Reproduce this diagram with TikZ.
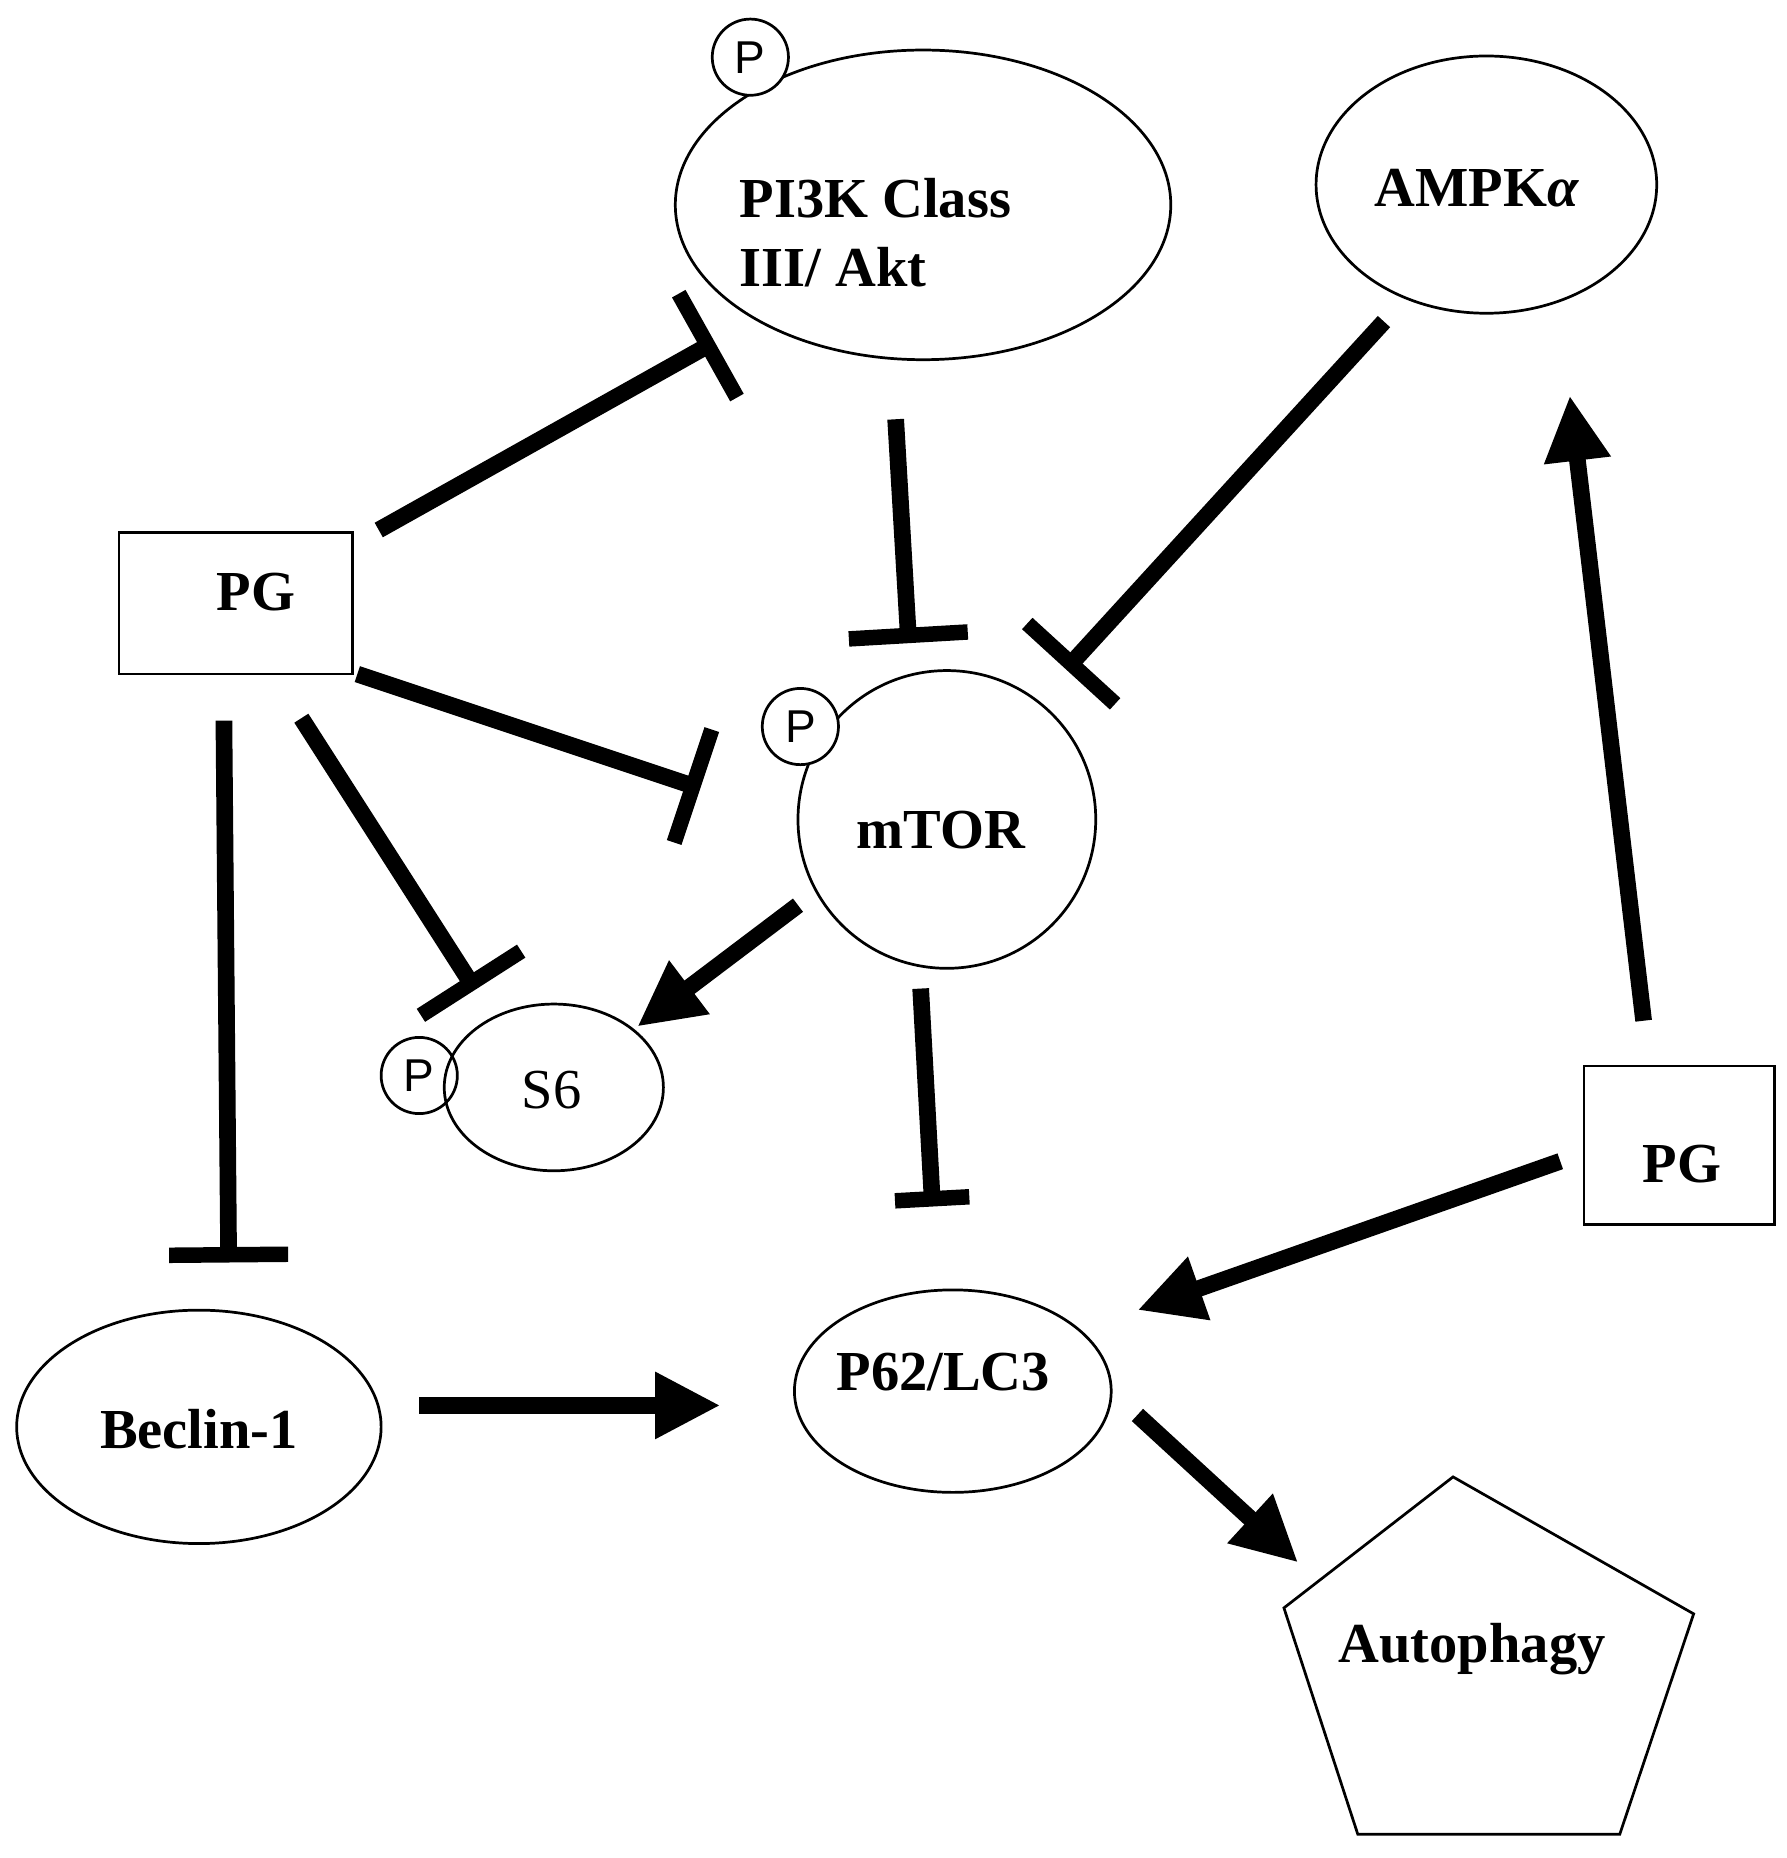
\documentclass[tikz,border=0pt]{standalone}
\usepackage{fontspec}
\setmainfont{Liberation Serif}
\newfontfamily\psans{Liberation Sans}
\usetikzlibrary{arrows.meta}
\begin{document}
\begin{tikzpicture}[x=0.02cm,y=-0.02cm,
  shp/.style={draw,line width=1.3pt,inner sep=0pt},
  lbl/.style={font=\fontsize{27}{33}\selectfont\bfseries,align=left},
  pc/.style={draw,line width=1.3pt,circle,minimum size=1.28cm,inner sep=0pt,font=\psans\fontsize{22}{22}\selectfont},
  inh/.style={line width=0.28cm,-{Bar[width=2cm,line width=0.26cm]}},
  act/.style={line width=0.28cm,-{Triangle[length=1.1cm,width=1.05cm]}}]
\useasboundingbox (0,0) rectangle (1500,1560);
\draw[shp] (775,172) ellipse [x radius=208,y radius=130];
\node[lbl] (PI3K) at (735,195) {PI3K Class\\III/ Akt};
\node[pc,fill=white] (P1) at (630,48) {P};
\draw[shp] (1248,155) ellipse [x radius=143,y radius=108];
\node[lbl] (AMPK) at (1240,158) {AMPK\textit{α}};
\draw[shp] (100,447) rectangle (296,566);
\node[lbl] (PG) at (215,497) {PG};
\draw[shp] (795,688) circle [radius=125];
\node[lbl] (mTOR) at (790,697) {mTOR};
\node[pc,fill=white] (P2) at (672,610) {P};
\draw[shp] (465,913) ellipse [x radius=92,y radius=70];
\node[font=\fontsize{27}{33}\selectfont] (S6) at (463,915) {S6};
\node[pc] (P3) at (352,903) {P};
\draw[shp] (1330,895) rectangle (1490,1028);
\node[lbl] (PG2) at (1412,977) {PG};
\draw[shp] (800,1168) ellipse [x radius=133,y radius=85];
\node[lbl] (P62) at (792,1152) {P62/LC3};
\draw[shp] (167,1198) ellipse [x radius=153,y radius=98];
\node[lbl] (Bec) at (167,1200) {Beclin-1};
\draw[shp] (1220,1240) -- (1422,1355) -- (1360,1540) -- (1140,1540) -- (1078,1350) -- cycle;
\node[lbl] (Aut) at (1236,1385) {Autophagy};
\coordinate (a1) at (318,445); \coordinate (b1) at (600,287);
\coordinate (a2) at (752,352); \coordinate (b2) at (763,540);
\coordinate (a3) at (1162,270); \coordinate (b3) at (895,562);
\coordinate (a4) at (300,566); \coordinate (b4) at (588,662);
\coordinate (a5) at (253,603); \coordinate (b5) at (399,831);
\coordinate (a6) at (670,760); \coordinate (b6) at (535,862);
\coordinate (a7) at (188,605); \coordinate (b7) at (192,1060);
\coordinate (a8) at (773,830); \coordinate (b8) at (783,1013);
\coordinate (a9) at (1310,975); \coordinate (b9) at (955,1100);
\coordinate (a10) at (352,1180); \coordinate (b10) at (605,1180);
\coordinate (a11) at (955,1188); \coordinate (b11) at (1090,1312);
\coordinate (a12) at (1380,857); \coordinate (b12) at (1318,332);
\draw[inh] (a1) -- (b1);
\draw[inh] (a2) -- (b2);
\draw[inh] (a3) -- (b3);
\draw[inh] (a4) -- (b4);
\draw[inh] (a5) -- (b5);
\draw[act] (a6) -- (b6);
\draw[inh] (a7) -- (b7);
\draw[inh,-{Bar[width=1.25cm,line width=0.26cm]}] (a8) -- (b8);
\draw[act] (a9) -- (b9);
\draw[act] (a10) -- (b10);
\draw[act] (a11) -- (b11);
\draw[act] (a12) -- (b12);
\end{tikzpicture}
\end{document}
